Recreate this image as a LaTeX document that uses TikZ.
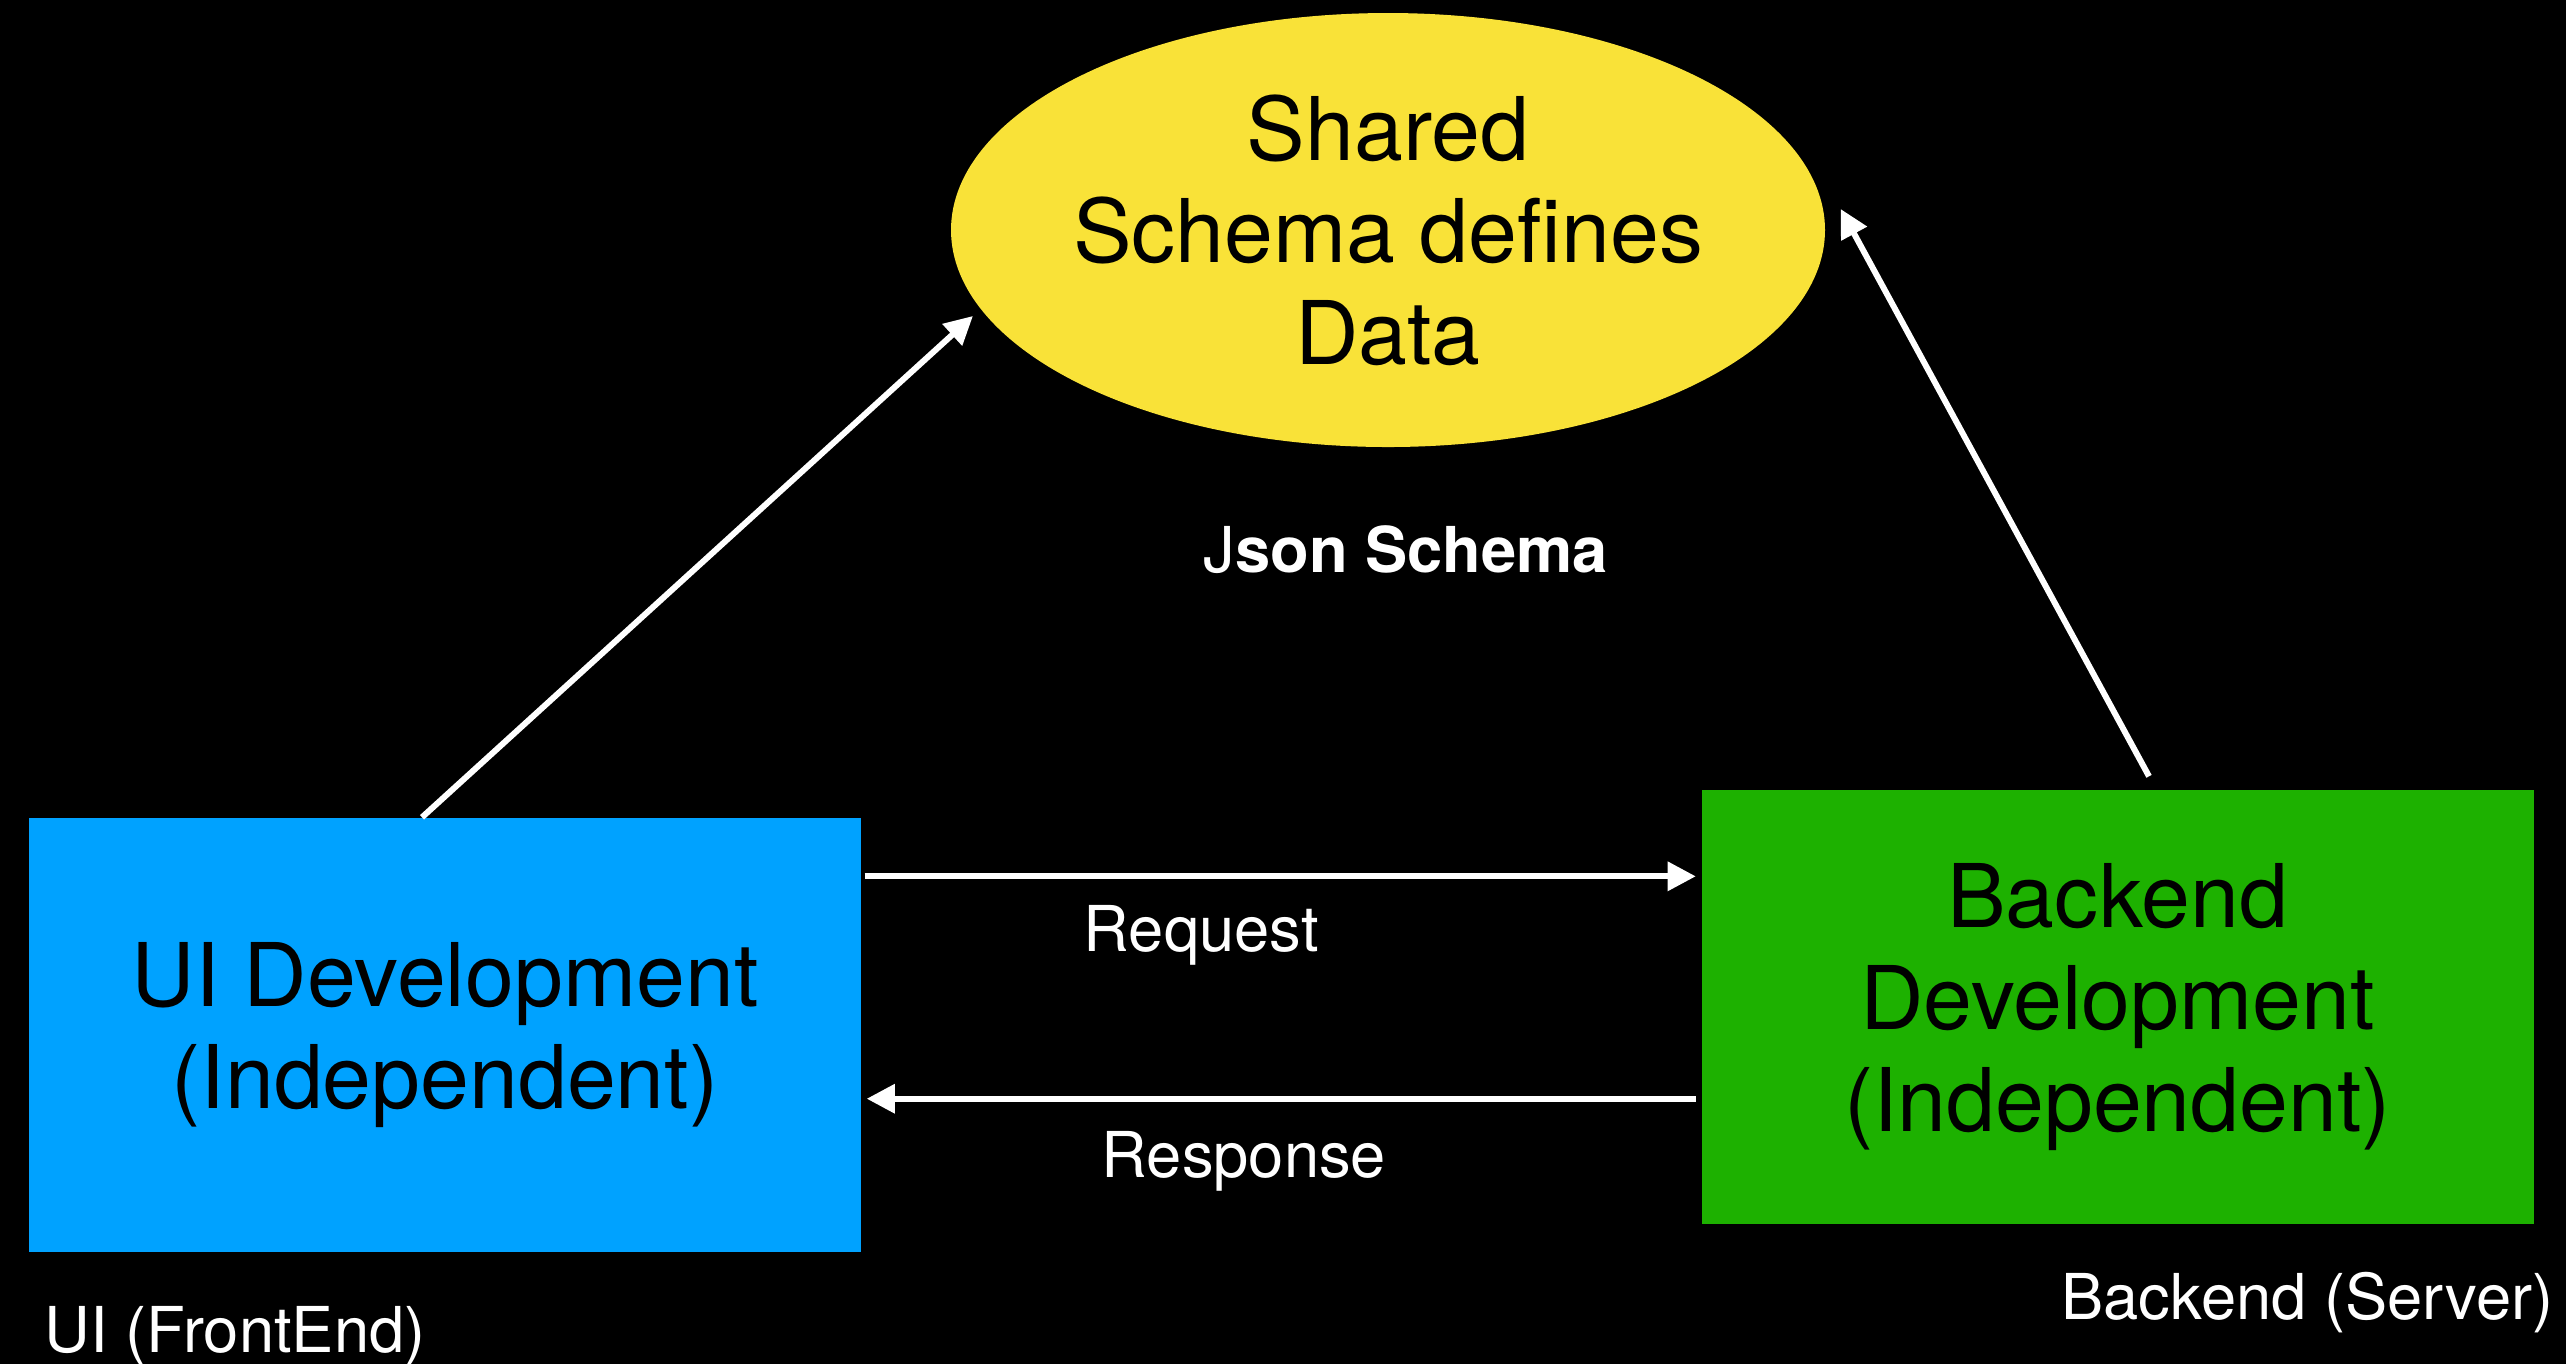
\documentclass[tikz,border=0pt]{standalone}
\usepackage{fontspec}
\setmainfont{TeX Gyre Heros}
\usetikzlibrary{shapes.geometric,arrows.meta}
\definecolor{schemayellow}{HTML}{F9E238}
\definecolor{uiblue}{HTML}{00A2FF}
\definecolor{backgreen}{HTML}{1DB100}
\tikzset{
  devbox/.style={rectangle, inner sep=0pt, minimum width=8.32cm, minimum height=4.34cm, align=center, font=\fontsize{25}{29}\selectfont},
  flow/.style={draw=white, line width=1.7pt, -{Triangle[length=8pt,width=8pt]}},
  caption/.style={text=white, inner sep=0pt, font=\fontsize{18}{21}\selectfont}
}
\begin{document}
\begin{tikzpicture}
    \fill [black] (0,0) rectangle (25.66,-13.64);
    \useasboundingbox (0,0) rectangle (25.66,-13.64);
    % schema in the middle
    \node [ellipse, fill=schemayellow, inner sep=0pt, minimum width=8.74cm, minimum height=4.34cm] (schema) at (13.88,-2.30) {};
    \node [align=center, font=\fontsize{25}{29}\selectfont] (schematext) at (schema.center) {Shared\\Schema defines\\Data};
    \node [text=white, font=\bfseries\fontsize{18}{21}\selectfont] (json) at (14.06,-5.50) {{\mdseries J}son Schema};
    % the two sides
    \node [devbox, fill=uiblue] (ui) at (4.45,-10.35) {UI Development\\(Independent)};
    \node [devbox, fill=backgreen] (backend) at (21.175,-10.07) {Backend\\Development\\(Independent)};
    \node [caption, anchor=base west] (uilabel) at (0.44,-13.52) {UI (FrontEnd)};
    \node [caption, anchor=base east] (backlabel) at (25.54,-13.19) {Backend (Server)};
    % arrows
    \draw [flow, shorten >=0.1cm] ([xshift=-0.23cm]ui.north) -- (schema.191);
    \draw [flow] ([shift={(0.315,0.13)}]backend.north) -- ([shift={(0.15,0.21)}]schema.east);
    \draw [flow] ([shift={(0.03,-0.59)}]ui.north east) -- node [caption, pos=0.405, yshift=-0.59cm] (req) {Request} ([shift={(-0.05,-0.87)}]backend.north west);
    \draw [flow] ([shift={(-0.05,1.26)}]backend.south west) -- node [caption, pos=0.545, yshift=-0.63cm] (resp) {Response} ([shift={(0.05,1.54)}]ui.south east);
\end{tikzpicture}
\end{document}
